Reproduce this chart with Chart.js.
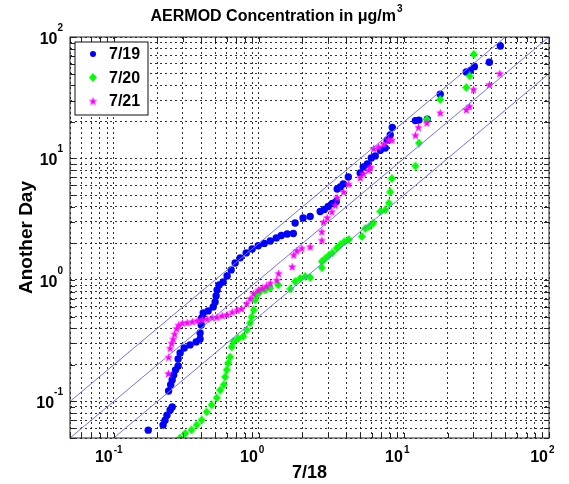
<!DOCTYPE html>
<html>
<head>
<meta charset="utf-8">
<script src="https://cdn.jsdelivr.net/npm/chart.js@4.4.0/dist/chart.umd.min.js"></script>
<style>
  html, body { margin: 0; padding: 0; background: #ffffff; }
  canvas { display: block; }
</style>
</head>
<body>
<canvas id="qq_chart" width="569" height="484"></canvas>
<script>
// sorted concentrations: 7/18 on x, the other day on y
const x_719 = [0.173, 0.219, 0.226, 0.233, 0.245, 0.253, 0.239, 0.247, 0.253, 0.259, 0.267, 0.278,
  0.278, 0.287, 0.306, 0.336, 0.370, 0.394, 0.394, 0.401, 0.404, 0.414, 0.448, 0.485,
  0.500, 0.508, 0.516, 0.533, 0.568, 0.605, 0.645, 0.687, 0.745, 0.819, 0.900, 0.991,
  1.09, 1.20, 1.32, 1.43, 1.57, 1.73, 1.78, 2.02, 2.26, 2.65, 2.83, 3.01, 3.21, 3.42,
  3.47, 3.64, 3.82, 4.14, 5.00, 5.25, 5.60, 5.96, 6.35, 6.88, 7.44, 7.68, 8.05, 8.31,
  12.0, 12.7, 14.5, 17.8, 26.9, 28.7, 30.6, 38.8, 46.2];
const y_719 = [0.058, 0.064, 0.070, 0.077, 0.085, 0.090, 0.122, 0.137, 0.150, 0.165, 0.182, 0.196,
  0.224, 0.251, 0.275, 0.292, 0.309, 0.327, 0.366, 0.426, 0.487, 0.535, 0.556, 0.600,
  0.659, 0.738, 0.827, 0.910, 0.963, 1.08, 1.21, 1.38, 1.52, 1.67, 1.80, 1.91,
  2.00, 2.09, 2.22, 2.32, 2.39, 2.41, 2.94, 3.24, 3.33, 3.66, 3.80, 4.03, 4.26, 4.43,
  5.61, 5.82, 6.17, 7.04, 7.60, 8.51, 9.01, 10.1, 10.5, 11.7, 12.2, 14.2, 15.6, 18.0,
  20.5, 20.7, 21.1, 33.8, 51.5, 53.0, 57.0, 62.0, 84.3];

const x_720 = [0.287, 0.311, 0.344, 0.373, 0.404, 0.437, 0.473, 0.513, 0.542, 0.573, 0.586, 0.601,
  0.615, 0.635, 0.650, 0.671, 0.721, 0.780, 0.826, 0.873, 0.893, 0.922, 0.944, 0.968,
  1.02, 1.11, 1.20, 1.36, 1.65, 1.78, 1.93, 2.09, 2.26, 2.72, 2.72, 2.87, 3.04, 3.21,
  3.44, 3.64, 3.88, 4.17, 5.13, 5.42, 5.77, 6.15, 6.88, 7.44, 7.87, 8.06, 8.26,
  12.0, 12.7, 14.4, 17.8, 26.9, 28.4, 30.3];
const y_720 = [0.050, 0.0545, 0.0583, 0.0641, 0.0704, 0.082, 0.0935, 0.107, 0.124, 0.137, 0.159, 0.182,
  0.207, 0.232, 0.281, 0.312, 0.330, 0.343, 0.388, 0.443, 0.496, 0.566, 0.684, 0.753,
  0.804, 0.828, 0.859, 0.910, 0.843, 0.972, 1.03, 1.07, 1.05, 1.26, 1.42, 1.50, 1.59, 1.67,
  1.83, 1.94, 2.06, 2.15, 2.28, 2.65, 2.76, 2.94, 3.66, 3.77, 4.30, 5.30, 6.84,
  8.67, 13.4, 21.0, 30.6, 38.4, 47.8, 72.1];

const x_721 = [0.238, 0.239, 0.245, 0.251, 0.257, 0.263, 0.272, 0.280, 0.297, 0.321, 0.348, 0.376,
  0.407, 0.441, 0.477, 0.516, 0.559, 0.605, 0.656, 0.710, 0.762, 0.826, 0.873, 0.922,
  0.991, 1.06, 1.13, 1.20, 1.33, 1.37, 1.70, 1.74, 1.83, 1.98, 2.26, 2.72, 2.72, 2.79,
  2.96, 3.19, 3.37, 3.47, 3.84, 4.16, 5.00, 5.27, 5.71, 5.91, 6.18, 6.69, 7.25, 7.84, 8.28,
  12.0, 12.6, 14.4, 17.8, 26.9, 28.3, 30.2, 38.9, 45.8];
const y_721 = [0.170, 0.232, 0.275, 0.303, 0.327, 0.360, 0.399, 0.426, 0.443, 0.447, 0.455, 0.464,
  0.473, 0.478, 0.491, 0.496, 0.510, 0.520, 0.545, 0.566, 0.582, 0.641, 0.705, 0.774,
  0.827, 0.859, 0.893, 0.945, 1.00, 1.135, 1.29, 1.61, 1.75, 1.83, 1.88, 2.13, 2.50, 3.00,
  3.27, 3.65, 4.14, 4.78, 5.33, 6.17, 6.98, 7.55, 8.04, 8.51, 12.1, 12.5, 13.2, 14.3, 14.2,
  15.6, 18.1, 19.7, 23.8, 25.3, 27.0, 37.2, 40.7, 50.2];

const series_labels = ["7/19", "7/20", "7/21"];
const ratio_lines = [2, 1, 0.5];   // y = 2x, y = x, y = x/2
const axis_min = 0.05;
const axis_max = 100;
const grid_values = [0.05, 0.06, 0.07, 0.08, 0.09,
  0.1, 0.2, 0.3, 0.4, 0.5, 0.6, 0.7, 0.8, 0.9,
  1, 2, 3, 4, 5, 6, 7, 8, 9,
  10, 20, 30, 40, 50, 60, 70, 80, 90, 100];
const label_values = [0.1, 1, 10, 100];
const label_exponents = ["-1", "0", "1", "2"];

const FONT = "\"Liberation Sans\", Arial, sans-serif";

function toPoints(xs, ys) {
  return xs.map((v, i) => ({ x: v, y: ys[i] }));
}

// filled pentagram / diamond markers drawn on a small canvas
function starMarker(size, colour) {
  const c = document.createElement("canvas");
  c.width = size; c.height = size;
  const g = c.getContext("2d");
  const R = size / 2, r = R * 0.42;
  g.beginPath();
  for (let i = 0; i < 10; i++) {
    const rad = i % 2 === 0 ? R : r;
    const a = -Math.PI / 2 + i * Math.PI / 5;
    g.lineTo(size / 2 + rad * Math.cos(a), size / 2 + 0.5 + rad * Math.sin(a));
  }
  g.closePath();
  g.fillStyle = colour;
  g.fill();
  return c;
}

function diamondMarker(w, h, colour) {
  const c = document.createElement("canvas");
  c.width = w; c.height = h;
  const g = c.getContext("2d");
  g.beginPath();
  g.moveTo(w / 2, 0); g.lineTo(w, h / 2); g.lineTo(w / 2, h); g.lineTo(0, h / 2);
  g.closePath();
  g.fillStyle = colour;
  g.fill();
  return c;
}

const blue = "#0000ff", green = "#00ff00", magenta = "#ff00ff";
const star_img = starMarker(9, magenta);
const diamond_img = diamondMarker(8, 9, green);

const chart_datasets = [
  { type: "scatter", label: series_labels[0], data: toPoints(x_719, y_719), order: 3,
    pointStyle: "circle", pointRadius: 3.7, pointBorderWidth: 0, backgroundColor: blue, borderColor: blue },
  { type: "scatter", label: series_labels[1], data: toPoints(x_720, y_720), order: 2,
    pointStyle: diamond_img, pointRadius: 4, backgroundColor: green, borderColor: green },
  { type: "scatter", label: series_labels[2], data: toPoints(x_721, y_721), order: 1,
    pointStyle: star_img, pointRadius: 4, backgroundColor: magenta, borderColor: magenta }
];

ratio_lines.forEach((r) => {
  chart_datasets.push({
    type: "line",
    label: "",
    data: [{ x: axis_min, y: axis_min * r }, { x: axis_max, y: axis_max * r }],
    borderColor: "#7272ff",
    borderWidth: 1,
    pointRadius: 0,
    fill: false,
    order: 0
  });
});

const logAxis = {
  type: "logarithmic",
  min: axis_min,
  max: axis_max,
  afterBuildTicks: (scale) => {
    scale.ticks = grid_values.map((v) => ({ value: v }));
  },
  ticks: { display: false },
  grid: { color: "rgba(0,0,0,0.8)", lineWidth: 1, drawTicks: false },
  border: { display: false, dash: [2, 3] }
};

const framePlugin = {
  id: "frame",
  afterDraw(chart) {
    const { ctx, chartArea: a, scales } = chart;
    const xs = scales.x, ys = scales.y;
    ctx.save();

    // inward tick marks on all four sides
    ctx.strokeStyle = "#222";
    ctx.lineWidth = 1;
    ctx.beginPath();
    grid_values.forEach((v) => {
      const px = Math.round(xs.getPixelForValue(v)) + 0.5;
      ctx.moveTo(px, a.bottom); ctx.lineTo(px, a.bottom - 5);
      ctx.moveTo(px, a.top); ctx.lineTo(px, a.top + 5);
      const py = Math.round(ys.getPixelForValue(v)) + 0.5;
      ctx.moveTo(a.left, py); ctx.lineTo(a.left + 5, py);
      ctx.moveTo(a.right, py); ctx.lineTo(a.right - 5, py);
    });
    ctx.stroke();
    ctx.strokeRect(a.left, a.top, a.right - a.left, a.bottom - a.top);

    // decade labels 10^n
    ctx.fillStyle = "#000";
    ctx.textBaseline = "alphabetic";
    label_values.forEach((v, i) => {
      const exp = label_exponents[i];
      const px = xs.getPixelForValue(v);
      ctx.font = "bold 16px " + FONT;
      ctx.textAlign = "right";
      ctx.fillText("10", px - 1, a.bottom + 24);
      ctx.font = "bold 10px " + FONT;
      ctx.textAlign = "left";
      ctx.fillText(exp, px, a.bottom + 15);

      const py = ys.getPixelForValue(v);
      ctx.font = "bold 10px " + FONT;
      const ew = ctx.measureText(exp).width;
      ctx.textAlign = "right";
      ctx.fillText(exp, a.left - 7, py - 6);
      ctx.font = "bold 16px " + FONT;
      ctx.fillText("10", a.left - 7 - ew, py + 7);
    });

    // axis titles
    ctx.font = "bold 18px " + FONT;
    ctx.textAlign = "center";
    ctx.fillText("7/18", (a.left + a.right) / 2, 478);
    ctx.save();
    ctx.font = "bold 19px " + FONT;
    ctx.translate(32, (a.top + a.bottom) / 2);
    ctx.rotate(-Math.PI / 2);
    ctx.fillText("Another Day", 0, 0);
    ctx.restore();

    // title with superscript
    const main = "AERMOD Concentration in \u03bcg/m";
    ctx.font = "bold 16px " + FONT;
    const mw = ctx.measureText(main).width;
    ctx.font = "bold 10px " + FONT;
    const sw = ctx.measureText("3").width;
    const tx = 276 - (mw + sw) / 2;
    ctx.textAlign = "left";
    ctx.font = "bold 16px " + FONT;
    ctx.fillText(main, tx, 21);
    ctx.font = "bold 10px " + FONT;
    ctx.fillText("3", tx + mw + 1, 12);

    // legend box
    const lx = 75, ly = 42, lw = 73, lh = 73;
    ctx.fillStyle = "#fff";
    ctx.fillRect(lx, ly, lw, lh);
    ctx.strokeStyle = "#111";
    ctx.strokeRect(lx, ly, lw, lh);
    const markers = [null, diamond_img, star_img];
    series_labels.forEach((lab, i) => {
      const cy = 54 + i * 23.5;
      if (i === 0) {
        ctx.fillStyle = blue;
        ctx.beginPath();
        ctx.arc(93, cy, 3, 0, Math.PI * 2);
        ctx.fill();
      } else {
        const m = markers[i];
        ctx.drawImage(m, 93 - m.width / 2, cy - m.height / 2);
      }
      ctx.fillStyle = "#000";
      ctx.font = "bold 16px " + FONT;
      ctx.textAlign = "left";
      ctx.textBaseline = "middle";
      ctx.fillText(lab, 109, cy + 1);
    });
    ctx.restore();
  }
};

const ctx = document.getElementById("qq_chart").getContext("2d");
const qq_chart = new Chart(ctx, {
  type: "scatter",
  data: { datasets: chart_datasets },
  options: {
    responsive: false,
    animation: false,
    events: [],
    layout: { padding: { left: 70, top: 37, right: 20, bottom: 46 } },
    plugins: {
      legend: { display: false },
      tooltip: { enabled: false },
      title: { display: false }
    },
    scales: { x: logAxis, y: { ...logAxis } }
  },
  plugins: [framePlugin]
});
</script>
</body>
</html>
